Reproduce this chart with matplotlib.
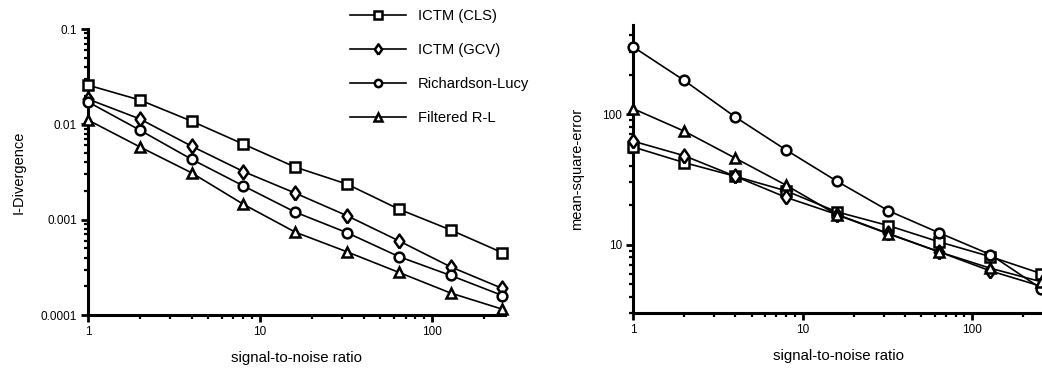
import matplotlib
matplotlib.use("Agg")
import matplotlib.pyplot as plt
from matplotlib.ticker import FixedLocator, FixedFormatter, LogLocator, NullFormatter

plt.rcParams['font.family'] = ['Liberation Sans', 'DejaVu Sans']

snr = [1, 2, 4, 8, 16, 32, 64, 128, 256]
labels = ["ICTM (CLS)", "ICTM (GCV)", "Richardson-Lucy", "Filtered R-L"]
diamond = [(0, -1), (0.7, 0), (0, 1), (-0.7, 0), (0, -1)]
markers = ["s", diamond, "o", "^"]
msizes = [7, 10, 7, 7]

# I-divergence (left panel)
idiv_cls = [0.0258, 0.018, 0.0108, 0.0062, 0.00356, 0.00236, 0.00129, 0.00078, 0.00045]
idiv_gcv = [0.0184, 0.0114, 0.0059, 0.0032, 0.0019, 0.0011, 0.0006, 0.00032, 0.00019]
idiv_rl = [0.0172, 0.0087, 0.0043, 0.00226, 0.0012, 0.00073, 0.00041, 0.00026, 0.00016]
idiv_frl = [0.0111, 0.0058, 0.0031, 0.00145, 0.00074, 0.00046, 0.00028, 0.00017, 0.000115]

# mean-square-error (right panel)
mse_cls = [56, 42.5, 33.4, 25.8, 17.8, 14.0, 10.5, 8.1, 6.0]
mse_gcv = [62, 48, 33.4, 23, 17, 12.2, 8.8, 6.3, 4.8]
mse_rl = [327, 181, 95, 53, 30.5, 18.2, 12.3, 8.4, 4.6]
mse_frl = [110, 74, 46, 28.5, 16.9, 12.1, 8.8, 6.6, 5.2]

W, H = 1042, 368
fig = plt.figure(figsize=(W / 100, H / 100), dpi=100)
ax1 = fig.add_axes([88 / W, 1 - 315 / H, 417 / W, 286 / H])
ax2 = fig.add_axes([633 / W, 1 - 313 / H, 411 / W, 288 / H])


def style(ax):
    ax.set_xscale("log")
    ax.set_yscale("log")
    for s in ["top", "right"]:
        ax.spines[s].set_visible(False)
    for s in ["left", "bottom"]:
        ax.spines[s].set_linewidth(2.2)
    ax.tick_params(which="major", direction="out", length=5, width=2, labelsize=8.5, pad=3)
    ax.tick_params(which="minor", direction="out", length=3, width=1.6)
    ax.xaxis.set_major_locator(FixedLocator([1, 10, 100]))
    ax.xaxis.set_major_formatter(FixedFormatter(["1", "10", "100"]))
    ax.xaxis.set_minor_locator(LogLocator(base=10, subs=range(2, 10)))
    ax.xaxis.set_minor_formatter(NullFormatter())
    ax.yaxis.set_minor_locator(LogLocator(base=10, subs=range(2, 10)))
    ax.yaxis.set_minor_formatter(NullFormatter())
    ax.set_xlim(1, 265)
    ax.set_xlabel("signal-to-noise ratio", fontsize=10.8, labelpad=9)


handles = []
for ys, m, ms, lab in zip([idiv_cls, idiv_gcv, idiv_rl, idiv_frl], markers, msizes, labels):
    h, = ax1.plot(snr, ys, color="black", lw=1.2, marker=m, ms=ms, mfc="white",
                  mec="black", mew=1.8, label=lab, clip_on=False, zorder=3)
    handles.append(h)
style(ax1)
ax1.set_ylim(0.0001, 0.1)
ax1.yaxis.set_major_locator(FixedLocator([0.0001, 0.001, 0.01, 0.1]))
ax1.yaxis.set_major_formatter(FixedFormatter(["0.0001", "0.001", "0.01", "0.1"]))
ax1.set_ylabel("I-Divergence", fontsize=10.5, labelpad=11)

for ys, m, ms in zip([mse_cls, mse_gcv, mse_rl, mse_frl], markers, msizes):
    ax2.plot(snr, ys, color="black", lw=1.2, marker=m, ms=ms, mfc="white",
             mec="black", mew=1.8, clip_on=False, zorder=3)
style(ax2)
ax2.set_ylim(3, 480)
ax2.yaxis.set_major_locator(FixedLocator([10, 100]))
ax2.yaxis.set_major_formatter(FixedFormatter(["10", "100"]))
ax2.set_ylabel("mean-square-error", fontsize=10.5, labelpad=13)

fig.legend(handles=handles, loc="upper left", bbox_to_anchor=(337 / W, 1 + 4 / H),
           frameon=False, fontsize=10.6, handlelength=3.8, handletextpad=0.8,
           labelspacing=1.35, markerscale=0.75)

fig.savefig("out.png", dpi=100)
